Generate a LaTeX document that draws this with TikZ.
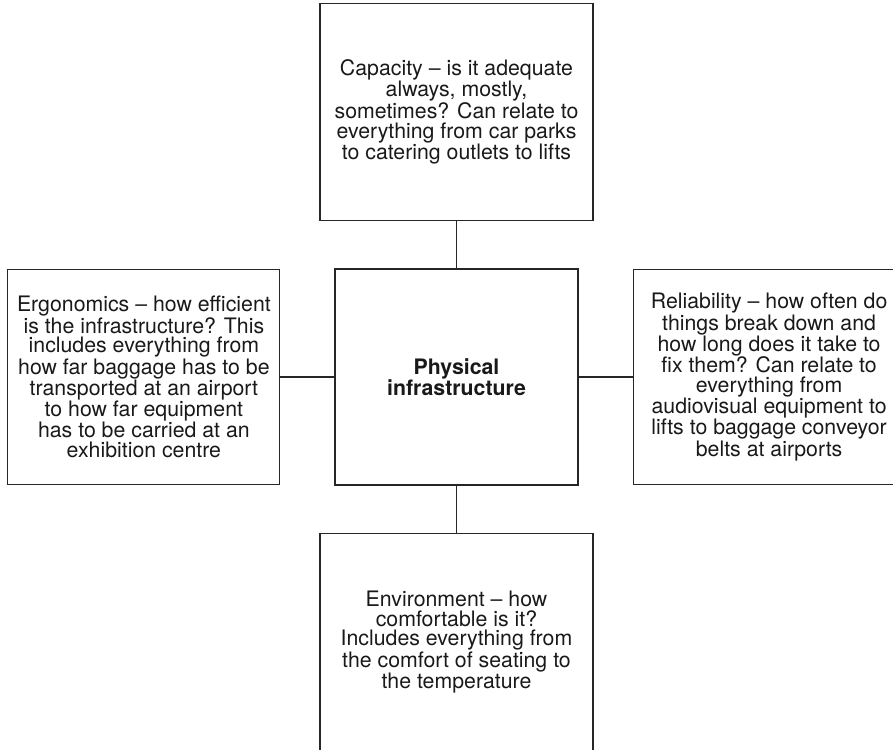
\documentclass[tikz,border=0pt]{standalone}
\usepackage{fontspec}
\setmainfont{TeX Gyre Heros}
\usetikzlibrary{positioning}

\tikzset{
  area/.style={draw=black!85, line width=1.1pt, align=center, inner sep=4pt,
    text=black!90, font=\fontsize{21.3}{19.6}\selectfont},
  side/.style={area, minimum width=272pt, minimum height=215pt},
}

\begin{document}
\begin{tikzpicture}[node distance=47.5pt and 54pt,
    every edge/.style={draw=black!85, line width=1.1pt}]
  \useasboundingbox (0pt,0pt) rectangle (893pt,-749pt);

  \node[area, minimum width=243pt, minimum height=216pt] (phys) at (456.5pt,-377pt)
    {\textbf{Physical}\\\textbf{infrastructure}};
  \node[area, minimum width=273pt, minimum height=217pt] (cap) [above=of phys]
    {Capacity -- is it adequate\\always, mostly,\\sometimes? Can relate to\\everything from car parks\\to catering outlets to lifts};
  \node[side] (ergo) [left=of phys]
    {Ergonomics -- how efficient\\is the infrastructure? This\\includes everything from\\how far baggage has to be\\transported at an airport\\to how far equipment\\has to be carried at an\\exhibition centre};
  \node[side] (rel) [right=of phys]
    {Reliability -- how often do\\things break down and\\how long does it take to\\fix them? Can relate to\\everything from\\audiovisual equipment to\\lifts to baggage conveyor\\belts at airports};
  \node[area, minimum width=273pt, minimum height=217pt] (env) [below=of phys]
    {Environment -- how\\comfortable is it?\\Includes everything from\\the comfort of seating to\\the temperature};

  \path
  (phys) edge (cap)
  (phys) edge (ergo)
  (phys) edge (rel)
  (phys) edge (env);
\end{tikzpicture}
\end{document}
